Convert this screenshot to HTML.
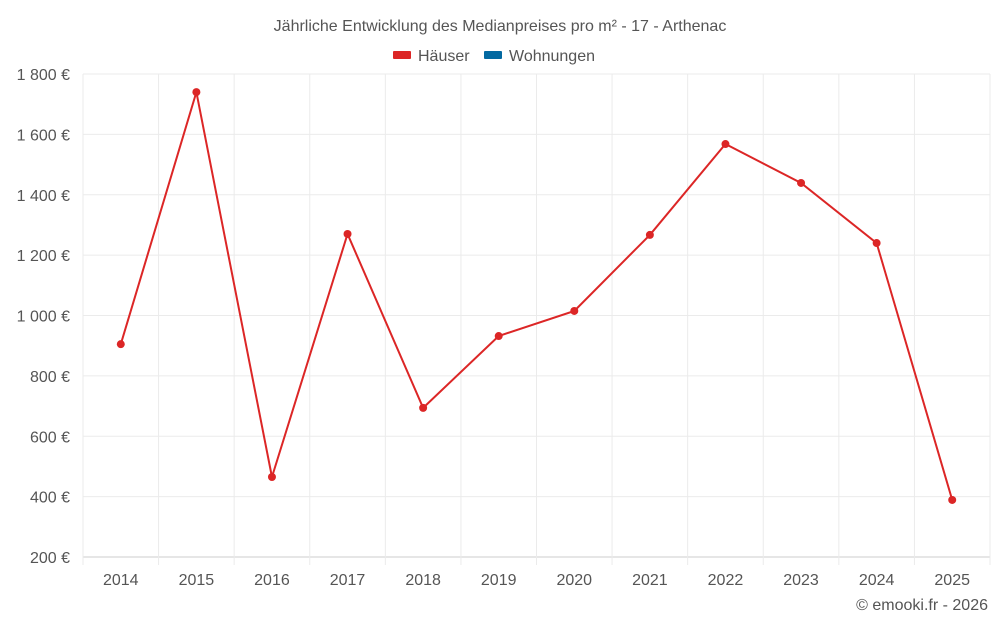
<!DOCTYPE html>
<html><head><meta charset="utf-8">
<style>
body{margin:0;background:#fff;font-family:"Liberation Sans",sans-serif;}
svg{display:block}
text{font-family:"Liberation Sans",sans-serif;fill:#555}
</style></head>
<body>
<svg id="chart" width="1000" height="625">
<text x="500" y="31" text-anchor="middle" font-size="16">Jährliche Entwicklung des Medianpreises pro m² - 17 - Arthenac</text>
<g>
<g><rect x="393" y="51" width="18" height="8" rx="1" fill="#dc2626"/><text x="418" y="61" font-size="16">Häuser</text></g>
<g><rect x="484" y="51" width="18" height="8" rx="1" fill="#0369a1"/><text x="509" y="61" font-size="16">Wohnungen</text></g>
</g>
<g id="grid"></g>
<g id="axes"></g>
<g id="series"></g>
<text x="988" y="610" text-anchor="end" font-size="16">© emooki.fr - 2026</text>
</svg>
<script>
const categories=["2014","2015","2016","2017","2018","2019","2020","2021","2022","2023","2024","2025"];
const haeuser=[905,1740,465,1270,694,932,1015,1267,1568,1439,1240,389];
const yTicks=[200,400,600,800,1000,1200,1400,1600,1800];
const yTickLabels=["200 €","400 €","600 €","800 €","1 000 €","1 200 €","1 400 €","1 600 €","1 800 €"];
const L=83,R=990,T=74,B=557,yMin=200,yMax=1800;
const band=(R-L)/categories.length;
function x(i){return L+band*(i+0.5);}
function y(v){return B-(v-yMin)/(yMax-yMin)*(B-T);}
const NS="http://www.w3.org/2000/svg";
function mk(tag,attrs,parent){const e=document.createElementNS(NS,tag);for(const k in attrs)e.setAttribute(k,attrs[k]);parent.appendChild(e);return e;}
const grid=document.getElementById('grid'),axes=document.getElementById('axes'),series=document.getElementById('series');
yTicks.forEach((t,i)=>{
 const l=mk('line',{x1:L,x2:R,y1:y(t),y2:y(t),stroke:i==0?'#ccc':'#ebebeb','stroke-width':1},grid);
 
 
 const tx=mk('text',{x:70,y:y(t)+6,'text-anchor':'end','font-size':16},axes);
 tx.textContent=yTickLabels[i];
 
 
});
for(let i=0;i<=categories.length;i++){
 const xx=L+band*i;
 const l=mk('line',{x1:xx,x2:xx,y1:T,y2:B+8,stroke:'#ebebeb','stroke-width':1},grid);
 
 
}
categories.forEach((c,i)=>{
 const tx=mk('text',{x:x(i),y:585,'text-anchor':'middle','font-size':16},axes);
 tx.textContent=c;
 
 
});
const pts=haeuser.map((v,i)=>x(i)+','+y(v)).join(' ');
const pl=mk('polyline',{points:pts,fill:'none',stroke:'#dc2626','stroke-width':2},series);


haeuser.forEach((v,i)=>{
 const c=mk('circle',{cx:x(i),cy:y(v),r:4,fill:'#dc2626'},series);
 
 
});
</script>
</body></html>
